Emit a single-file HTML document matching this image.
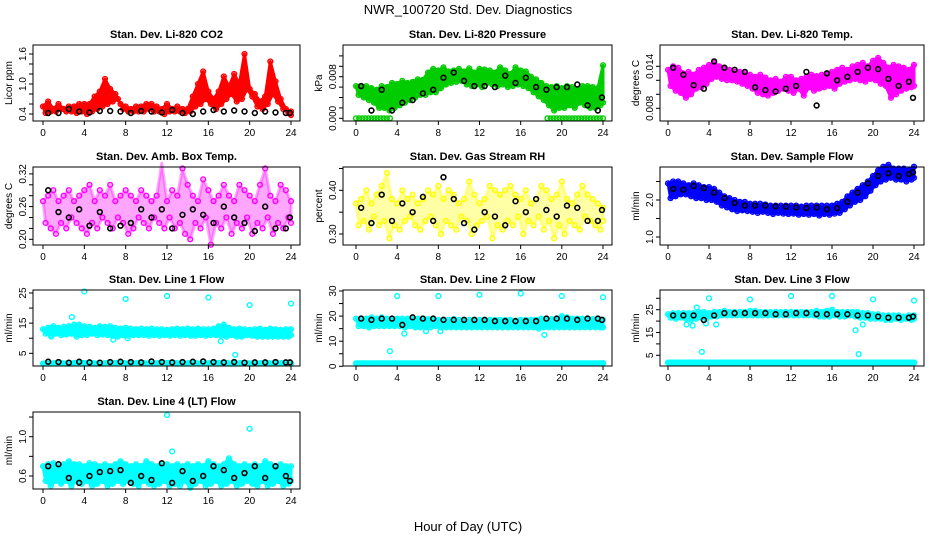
<!DOCTYPE html>
<html><head><meta charset="utf-8"><title>NWR_100720 Std. Dev. Diagnostics</title>
<style>
html,body{margin:0;padding:0;background:#fff;}
svg{display:block;font-family:"Liberation Sans",sans-serif;}
</style></head>
<body>
<svg id="chart" width="936" height="540" viewBox="0 0 936 540">
<text x="468" y="14" text-anchor="middle" font-size="13">NWR_100720  Std. Dev. Diagnostics</text>
<text x="468" y="531" text-anchor="middle" font-size="13">Hour of Day (UTC)</text>
</svg>
<script>
// ---- data (colored series: A at t=i*0.5, B at t=i*0.5+0.25; black at t=i+0.5) ----
const hourTicks = [0,4,8,12,16,20,24];

const co2A = [0.55,0.65,0.5,0.6,0.5,0.55,0.55,0.6,0.6,0.6,0.75,0.85,1.1,0.9,0.8,0.6,0.55,0.5,0.55,0.55,0.6,0.6,0.55,0.5,0.6,0.5,0.55,0.5,0.5,0.75,1.0,1.25,0.85,0.7,0.85,1.15,0.95,1.2,1.0,1.6,0.9,0.8,0.65,0.75,1.45,1.05,0.7,0.5,0.45];
const co2B = [0.42,0.45,0.45,0.5,0.45,0.45,0.42,0.45,0.4,0.45,0.5,0.55,0.6,0.65,0.7,0.5,0.45,0.45,0.45,0.45,0.5,0.45,0.45,0.4,0.45,0.45,0.45,0.42,0.45,0.55,0.6,0.7,0.6,0.5,0.6,0.7,0.8,0.65,0.7,0.9,0.75,0.55,0.5,0.6,0.8,0.65,0.5,0.42,0.38];
const co2K = [0.42,0.42,0.5,0.45,0.43,0.46,0.46,0.45,0.42,0.46,0.45,0.43,0.48,0.42,0.4,0.45,0.48,0.45,0.47,0.45,0.42,0.45,0.43,0.42,0.42];

const presA = [0.0062,0.0062,0.0062,0.0058,0.0055,0.0062,0.006,0.0068,0.0066,0.0072,0.0068,0.007,0.0075,0.0074,0.0088,0.0095,0.0092,0.0098,0.009,0.0092,0.0095,0.009,0.0096,0.0088,0.0095,0.0094,0.0092,0.0088,0.0098,0.0092,0.0085,0.0098,0.0092,0.009,0.008,0.0075,0.0068,0.0062,0.006,0.0062,0.0058,0.0062,0.006,0.0055,0.0062,0.0062,0.006,0.0058,0.0102];
const presB = [0.0045,0.004,0.0035,0.003,0.002,0.002,0.0015,0.002,0.0025,0.003,0.0035,0.004,0.0045,0.0045,0.005,0.005,0.0058,0.0065,0.0068,0.007,0.0072,0.0065,0.0062,0.0065,0.006,0.0068,0.0065,0.0062,0.0065,0.006,0.0062,0.0065,0.0062,0.0058,0.005,0.0042,0.0035,0.0025,0.0015,0.002,0.002,0.0025,0.002,0.003,0.0025,0.002,0.002,0.0025,0.003];
const presZeroT = [0,0.3,0.6,0.9,1.2,1.5,1.8,2.1,2.4,2.7,3.0,3.3,18.6,18.9,19.2,19.5,19.8,20.1,20.4,20.7,21.0,21.3,21.6,21.9,22.2,22.5,22.8,23.1,23.4,23.7,24];
const presZeroV = [0,0,0,0,0,0,0,0,0,0,0,0,0,0,0,0,0,0,0,0,0,0,0,0,0,0,0,0,0,0,0];
const presK = [0.0062,0.0015,0.0055,0.0015,0.003,0.0035,0.0048,0.0055,0.0078,0.0088,0.0072,0.0062,0.0062,0.006,0.0082,0.0068,0.0078,0.006,0.0055,0.006,0.006,0.0065,0.0025,0.0015,0.004];

const ltA = [0.0135,0.014,0.0138,0.013,0.0132,0.0128,0.0135,0.0138,0.0142,0.0145,0.014,0.0138,0.0135,0.0132,0.0132,0.013,0.0128,0.0125,0.0128,0.0124,0.012,0.0122,0.0118,0.0125,0.0125,0.012,0.0122,0.0125,0.0128,0.0126,0.0128,0.013,0.0132,0.0135,0.0138,0.0135,0.014,0.0142,0.0145,0.014,0.0148,0.0152,0.0145,0.0138,0.0142,0.014,0.0138,0.0135,0.0142];
const ltB = [0.0112,0.0105,0.0102,0.0095,0.01,0.0108,0.011,0.0115,0.0122,0.0125,0.0122,0.012,0.012,0.0118,0.0115,0.0112,0.0108,0.0102,0.01,0.0098,0.0102,0.0105,0.0108,0.0105,0.0102,0.0108,0.0098,0.011,0.0105,0.0108,0.011,0.0112,0.0108,0.0115,0.0118,0.012,0.0122,0.012,0.0118,0.0122,0.012,0.0115,0.0112,0.0095,0.01,0.0105,0.0108,0.011,0.0112];
const ltK = [0.0138,0.0128,0.0113,0.0108,0.0147,0.0138,0.0135,0.0132,0.011,0.0106,0.0104,0.0108,0.0112,0.0132,0.0084,0.013,0.012,0.0125,0.0132,0.0138,0.0136,0.0122,0.0112,0.0118,0.0095];

const abA = [0.27,0.28,0.29,0.27,0.28,0.29,0.27,0.28,0.29,0.3,0.27,0.29,0.28,0.3,0.27,0.28,0.29,0.28,0.27,0.29,0.28,0.27,0.28,0.34,0.27,0.29,0.28,0.33,0.3,0.28,0.27,0.31,0.29,0.27,0.28,0.3,0.28,0.27,0.3,0.29,0.28,0.27,0.3,0.33,0.28,0.27,0.3,0.29,0.27];
const abB = [0.23,0.22,0.21,0.23,0.22,0.24,0.23,0.22,0.21,0.23,0.22,0.24,0.23,0.22,0.24,0.23,0.21,0.22,0.24,0.23,0.22,0.24,0.23,0.22,0.24,0.22,0.23,0.21,0.2,0.23,0.22,0.24,0.19,0.23,0.22,0.24,0.21,0.23,0.22,0.24,0.21,0.23,0.22,0.24,0.21,0.23,0.22,0.24,0.23];
const abK = [0.29,0.25,0.24,0.255,0.225,0.25,0.22,0.225,0.23,0.255,0.24,0.255,0.22,0.245,0.255,0.245,0.23,0.26,0.24,0.23,0.215,0.26,0.22,0.22,0.24];

const rhA = [0.37,0.38,0.4,0.37,0.39,0.41,0.44,0.38,0.37,0.4,0.38,0.39,0.37,0.38,0.4,0.39,0.41,0.38,0.4,0.39,0.37,0.38,0.42,0.39,0.37,0.38,0.41,0.4,0.39,0.4,0.41,0.39,0.38,0.4,0.37,0.38,0.41,0.4,0.38,0.39,0.42,0.38,0.37,0.39,0.41,0.39,0.38,0.37,0.36];
const rhB = [0.32,0.33,0.31,0.34,0.32,0.33,0.29,0.32,0.31,0.33,0.34,0.32,0.31,0.33,0.34,0.32,0.3,0.33,0.32,0.31,0.34,0.33,0.3,0.32,0.33,0.34,0.29,0.32,0.31,0.33,0.32,0.34,0.3,0.33,0.32,0.34,0.31,0.33,0.29,0.32,0.3,0.33,0.32,0.31,0.34,0.33,0.32,0.31,0.33];
const rhK = [0.36,0.325,0.39,0.33,0.37,0.35,0.385,0.33,0.43,0.38,0.325,0.31,0.35,0.34,0.32,0.375,0.35,0.38,0.355,0.34,0.365,0.36,0.33,0.33,0.355];

const sfA = [2.45,2.5,2.5,2.45,2.4,2.45,2.4,2.35,2.35,2.3,2.2,2.1,2.05,2.0,1.95,1.95,1.9,1.9,1.9,1.88,1.85,1.85,1.85,1.85,1.85,1.85,1.82,1.85,1.85,1.85,1.85,1.85,1.85,1.9,1.95,2.1,2.2,2.3,2.4,2.5,2.65,2.8,2.9,2.95,2.85,2.85,2.85,2.8,2.9];
const sfB = [2.05,2.1,2.15,2.15,2.1,2.05,2.05,2.0,2.0,1.95,1.85,1.8,1.75,1.7,1.72,1.7,1.68,1.65,1.68,1.65,1.62,1.65,1.63,1.62,1.63,1.6,1.62,1.6,1.62,1.58,1.62,1.6,1.63,1.65,1.75,1.85,1.95,2.0,2.1,2.25,2.4,2.5,2.55,2.6,2.55,2.55,2.5,2.55,2.6];
const sfK = [2.3,2.28,2.38,2.32,2.2,2.05,1.92,1.85,1.85,1.85,1.83,1.82,1.8,1.78,1.8,1.75,1.78,1.95,2.2,2.45,2.65,2.72,2.65,2.7,2.75];

const l1A = [13,13.5,14,13.5,13.8,14,14.5,14.5,14,13.8,13.5,14,13.8,14,13.5,13.2,13.5,13.2,13,13.2,13,13.2,13,13,12.8,13,13.2,13,13.2,13,13.2,13,13,13.2,14,14.5,13.5,13,13.2,13,12.8,13,13.2,12.8,13.2,13,12.8,13,13];
const l1B = [11.5,11,11.5,11,11.2,11.5,10.5,11,11,11.5,11,11.2,11,10.8,10.5,11,10.8,11,11,11,10.8,11,10.8,11,10.8,11,10.8,11,10.8,10.8,11,10.8,11,11,10.8,10.5,11,10.5,10.5,11,10.8,10.5,10.5,10.5,10.5,10.5,10.5,10.5,11];
const l1K = [2.2,2.1,1.9,2.2,2.0,1.9,2.1,2.2,2.1,2.0,2.3,2.1,2.0,2.1,2.2,2.3,2.1,2.0,2.1,1.9,2.0,2.0,2.1,2.0,2.0];
const l1Low = [1.6,1.7,1.6,1.8,1.7,1.6,1.7,1.8,1.6,1.7,1.6,1.7,1.8,1.6,1.7,1.6,1.7,1.8,1.6,1.7,1.6,1.7,1.6,1.7,1.6];
const l1SpikeT = [2.8,4,8,12,16,20,24,0.8,6.8,8.2,17.2,18.6];
const l1SpikeV = [17,25.5,23,24,23.5,21,21.5,10.5,9.5,10,9,4.5];

const l2A = [19,19,19,19.5,19,19.5,19,19,19,19,19,18.8,19,19,18.8,19,18.5,18.5,18.5,18.8,18.5,18.5,18.5,18.5,18.5,18.5,18.5,18.5,18.5,18.5,18.5,18.2,18.5,18.5,18.5,18.5,19,19,18.8,19,20,19.5,19,19,19,19,18.8,18.5,18.5];
const l2B = [16,16,15.5,16,16,16,16,16,16,15.5,16,15.5,15.5,15.5,15.5,16,15.5,15.5,15.5,15.5,15.5,15.5,15.5,15.5,15.5,15.5,15.5,15.5,15.5,15.5,15.5,15.5,15.5,15.5,15.5,15,15.5,15.5,15.5,15.5,15.5,15.5,15.5,15.5,15.5,15.5,15.5,15.5,15.5];
const l2K = [19,18.5,19,19,16.5,19.5,19,19,18.5,18.5,18.5,18.5,18.5,18,18,18,18,18,19,19,19,18.5,19,19,18.5];
const l2Low = [1.2,1.2,1.2,1.2,1.2,1.2,1.2,1.2,1.2,1.2,1.2,1.2,1.2,1.2,1.2,1.2,1.2,1.2,1.2,1.2,1.2,1.2,1.2,1.2,1.2];
const l2SpikeT = [3.3,4,4.7,6.8,8,8.2,12,16,18.3,20,24];
const l2SpikeV = [6,28,13,14,28,14,28.5,29,12.5,28,27.5];

const l3A = [23,23.5,23.5,23.5,23.5,23.5,24,24,23.5,24,24,24.5,24,24,24,24,24.5,24.5,24,24,24,24,24,24,24,24,24,24,24,24.5,24,24.5,25,24,24,24,24,24,23.5,23.5,23,23,22.5,22.5,22.5,22.5,22,22.5,22.5];
const l3B = [21.5,21,21.5,21,20.5,21,21.5,21,22,22,22.5,22.5,22.5,22.5,22.5,22.5,22.5,22.5,22.5,22.5,22.5,22.5,22.5,22.5,22.5,22.5,22.5,22.5,22.5,22,22,22,22.5,22,22,22.5,22,21.5,21.5,21,21,21,20.5,20.5,21,20.5,21,20.5,21];
const l3K = [22.5,22.5,22.5,20.5,22.5,23.5,23.5,23.5,23.5,23.5,23,23,23.5,23.5,23,23,23,23,22.5,22.5,22,21.5,21.5,21.5,22];
const l3Low = [1.8,1.8,1.8,1.8,1.8,1.8,1.8,1.8,1.8,1.8,1.8,1.8,1.8,1.8,1.8,1.8,1.8,1.8,1.8,1.8,1.8,1.8,1.8,1.8,1.8];
const l3SpikeT = [1.8,2.4,2.8,3.3,3.7,4,4.7,8,12,16,18.3,18.6,19,20,24];
const l3SpikeV = [18.5,18,26,6.5,19,30,18.5,29.5,31,31,16,5.5,18.5,29.5,29];

const l4A = [0.7,0.72,0.73,0.7,0.72,0.75,0.72,0.72,0.7,0.73,0.72,0.7,0.72,0.7,0.72,0.75,0.72,0.7,0.72,0.7,0.75,0.72,0.7,0.72,0.72,0.7,0.72,0.7,0.72,0.7,0.72,0.7,0.75,0.72,0.7,0.72,0.78,0.72,0.7,0.72,0.7,0.72,0.7,0.75,0.72,0.7,0.72,0.7,0.7];
const l4B = [0.55,0.5,0.55,0.52,0.55,0.5,0.55,0.52,0.55,0.5,0.52,0.55,0.5,0.52,0.55,0.52,0.55,0.52,0.5,0.55,0.52,0.5,0.52,0.55,0.5,0.52,0.5,0.55,0.48,0.52,0.55,0.5,0.52,0.55,0.5,0.52,0.55,0.5,0.52,0.55,0.52,0.5,0.55,0.5,0.52,0.55,0.5,0.52,0.55];
const l4K = [0.7,0.72,0.58,0.53,0.6,0.64,0.65,0.66,0.53,0.6,0.56,0.73,0.53,0.65,0.55,0.6,0.7,0.66,0.58,0.63,0.7,0.58,0.7,0.6,0.55];
const l4SpikeT = [4,12,12.5,20];
const l4SpikeV = [1.3,1.22,0.85,1.08];

// ---- layout ----
const svg = document.getElementById('chart');
const NS = 'http://www.w3.org/2000/svg';
function mk(tag, attrs, parent){const e=document.createElementNS(NS,tag);for(const k in attrs)e.setAttribute(k,attrs[k]);(parent||svg).appendChild(e);return e;}

const cols = [{l:33,r:300,x0:43,x24:291},{l:343,r:612,x0:356,x24:603},{l:660,r:924,x0:668,x24:914}];
const rows = [{t:45,b:121},{t:167,b:245},{t:290,b:366},{t:412,b:489}];

const panels = [
 {name:'co2',title:'Stan. Dev. Li-820 CO2',ylab:'Licor ppm',c:0,r:0,v1:0.4,p1:114,v2:1.6,p2:54,ticks:[0.4,0.6,0.8,1.0,1.2,1.4,1.6],labels:['0.4','1.0','1.6'],col:'#ff0000',op:1,A:co2A,B:co2B,K:co2K},
 {name:'pressure',title:'Stan. Dev. Li-820 Pressure',ylab:'kPa',c:1,r:0,v1:0,p1:118.3,v2:0.008,p2:76.7,ticks:[0,0.002,0.004,0.006,0.008,0.01,0.012],labels:['0.000','0.008'],col:'#00cc00',op:1,A:presA,B:presB,K:presK,sT:presZeroT,sV:presZeroV},
 {name:'li820-temp',title:'Stan. Dev. Li-820 Temp.',ylab:'degrees C',c:2,r:0,v1:0.008,p1:108.3,v2:0.014,p2:66.3,ticks:[0.008,0.010,0.012,0.014],labels:['0.008','0.014'],col:'#ff00ff',op:1,A:ltA,B:ltB,K:ltK},
 {name:'amb-box-temp',title:'Stan. Dev. Amb. Box Temp.',ylab:'degrees C',c:0,r:1,v1:0.20,p1:239.3,v2:0.32,p2:173.9,ticks:[0.20,0.22,0.24,0.26,0.28,0.30,0.32],labels:['0.20','0.26','0.32'],col:'#ff00ff',op:0.35,A:abA,B:abB,K:abK},
 {name:'gas-rh',title:'Stan. Dev. Gas Stream RH',ylab:'percent',c:1,r:1,v1:0.30,p1:234,v2:0.40,p2:190.3,ticks:[0.30,0.35,0.40,0.45],labels:['0.30','0.40'],col:'#ffff00',op:0.35,A:rhA,B:rhB,K:rhK},
 {name:'sample-flow',title:'Stan. Dev. Sample Flow',ylab:'ml/min',c:2,r:1,v1:1.0,p1:237,v2:2.0,p2:200,ticks:[1.0,1.5,2.0,2.5],labels:['1.0','2.0'],col:'#0000ff',op:1,A:sfA,B:sfB,K:sfK},
 {name:'line1-flow',title:'Stan. Dev. Line 1 Flow',ylab:'ml/min',c:0,r:2,v1:5,p1:353.3,v2:25,p2:293,ticks:[5,10,15,20,25],labels:['5','15','25'],col:'#00ffff',op:1,A:l1A,B:l1B,K:l1K,low:l1Low,sT:l1SpikeT,sV:l1SpikeV},
 {name:'line2-flow',title:'Stan. Dev. Line 2 Flow',ylab:'ml/min',c:1,r:2,v1:0,p1:366.3,v2:30,p2:291,ticks:[0,5,10,15,20,25,30],labels:['0','10','20','30'],col:'#00ffff',op:1,A:l2A,B:l2B,K:l2K,low:l2Low,sT:l2SpikeT,sV:l2SpikeV},
 {name:'line3-flow',title:'Stan. Dev. Line 3 Flow',ylab:'ml/min',c:2,r:2,v1:5,p1:355.3,v2:25,p2:309.7,ticks:[5,10,15,20,25,30],labels:['5','15','25'],col:'#00ffff',op:1,A:l3A,B:l3B,K:l3K,low:l3Low,sT:l3SpikeT,sV:l3SpikeV},
 {name:'line4-flow',title:'Stan. Dev. Line 4 (LT) Flow',ylab:'ml/min',c:0,r:3,v1:0.6,p1:476,v2:1.0,p2:436.7,ticks:[0.6,0.8,1.0,1.2],labels:['0.6','1.0'],col:'#00ffff',op:1,A:l4A,B:l4B,K:l4K,sT:l4SpikeT,sV:l4SpikeV}
];

panels.forEach(p=>{
  const C=cols[p.c], R=rows[p.r];
  const g = mk('g',{});
  
  
  const xs = t => C.x0 + (C.x24-C.x0)*Math.min(t,24)/24;
  const ys = v => p.p1 + (p.p2-p.p1)*(v-p.v1)/(p.v2-p.v1);
  const cx=(C.l+C.r)/2;
  const tt = mk('text',{x:cx,y:R.t-7,'text-anchor':'middle','font-size':'11','font-weight':'bold'},g);
  tt.textContent=p.title;
  
  
  const up = p.A.map((v,i)=>xs(i*0.5).toFixed(1)+','+ys(v).toFixed(1));
  const dn = p.B.map((v,i)=>xs(i*0.5+0.25).toFixed(1)+','+ys(v).toFixed(1)).reverse();
  const band = mk('polygon',{points:up.concat(dn).join(' '),fill:p.col,'fill-opacity':p.op,stroke:p.col,'stroke-width':3,'stroke-opacity':p.op,'stroke-linejoin':'round'},g);
  
  
  const pts = mk('g',{fill:'none'},g);
  
  
  const dot=(t,v,col,w)=>{const y=ys(v); if(y<R.t-3||y>R.b+3) return; const c=mk('circle',{cx:xs(t),cy:y,r:2.4,stroke:col,'stroke-width':w},pts);
    
    };
  p.A.forEach((v,i)=>dot(i*0.5,v,p.col,1.4));
  p.B.forEach((v,i)=>dot(i*0.5+0.25,v,p.col,1.4));
  if(p.low){p.low.forEach((v,i)=>{for(let k=0;k<8;k++) dot(i+k/8,v,p.col,1.4);});}
  if(p.sT){p.sT.forEach((t,i)=>dot(t,p.sV[i],p.col,1.4));}
  p.K.forEach((v,i)=>dot(i<24?i+0.5:23.9,v,'#000',1.6));
  const bx=mk('rect',{x:C.l,y:R.t,width:C.r-C.l,height:R.b-R.t,fill:'none',stroke:'#000','stroke-width':1},g);
  
  
  const xa=mk('g',{},g);
  
  
  hourTicks.forEach(h=>{const x=xs(h);
    mk('line',{x1:x,y1:R.b,x2:x,y2:R.b+4,stroke:'#000'},xa);
    const tx=mk('text',{x:x,y:R.b+15,'text-anchor':'middle','font-size':'10'},xa); tx.textContent=h;
    
    });
  const ya=mk('g',{},g);
  
  
  p.ticks.forEach(v=>{const y=ys(v); mk('line',{x1:C.l,y1:y,x2:C.l-4,y2:y,stroke:'#000'},ya);});
  p.labels.forEach(s=>{const y=ys(parseFloat(s));
    const tx=mk('text',{x:0,y:0,'text-anchor':'middle','font-size':'10',transform:`translate(${C.l-7},${y}) rotate(-90)`},ya); tx.textContent=s;
    
    });
  const yl=mk('text',{x:0,y:0,'text-anchor':'middle','font-size':'10',transform:`translate(${C.l-21},${(R.t+R.b)/2}) rotate(-90)`},g);
  yl.textContent=p.ylab;
  
  
});
</script>
</body></html>
